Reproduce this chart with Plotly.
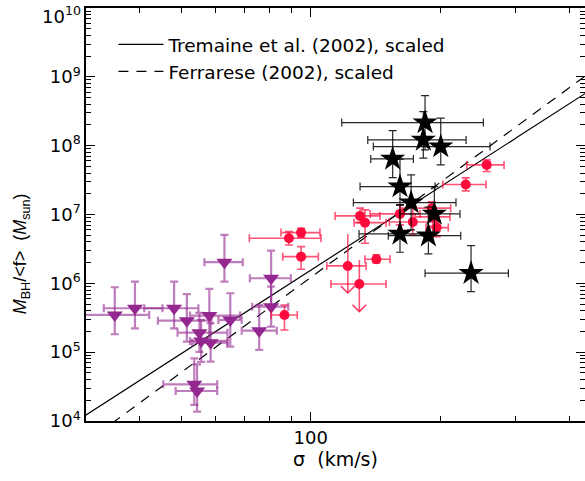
import numpy as np
import plotly.graph_objects as go

# ---------------- data ----------------
# purple triangles
purple_sigma    = [35.0, 39.0, 48.1, 51.5, 58.1, 55.1, 55.6, 65.0, 58.5, 75.9, 80.9, 80.9, 63.0, 53.6, 54.4]
purple_sigma_lo = [25.0, 33.0, 41.0, 44.1, 52.4, 49.0, 52.4, 61.0, 53.0, 69.1, 72.2, 73.1, 56.6, 45.4, 48.5]
purple_sigma_hi = [42.1, 45.2, 54.8, 58.8, 68.5, 64.0, 64.0, 69.1, 64.0, 83.4, 89.9, 88.7, 69.5, 60.6, 60.6]
purple_logm     = [5.541, 5.638, 5.638, 5.458, 5.531, 5.283, 5.163, 5.468, 5.138, 5.312, 6.074, 5.661, 6.307, 4.533, 4.436]
purple_logm_hi  = [5.943, 6.025, 6.025, 5.842, 5.919, 5.570, 5.468, 5.856, 5.420, 5.686, 6.475, 5.952, 6.703, 4.911, 4.824]
purple_logm_lo  = [5.260, 5.347, 5.347, 5.153, 5.138, 5.003, 4.858, 5.080, 4.862, 5.032, 5.676, 5.371, 6.025, 4.233, 4.135]

# red circles
red_sigma    = [89.0, 95.0, 95.0, 86.9, 142.2, 130.3, 133.8, 161.4, 172.9, 191.3, 192.6, 196.5, 229.6, 256.9]
red_sigma_lo = [72.0, 85.3, 86.1, 80.9, 133.8, 114.0, 126.2, 137.5, 152.4, 161.4, 175.0, 185.5, 203.0, 230.8]
red_sigma_hi = [105.7, 105.1, 104.2, 93.1, 153.0, 145.0, 149.8, 179.7, 196.5, 211.8, 211.0, 209.1, 256.0, 281.9]
red_logm     = [6.656, 6.737, 6.388, 5.541, 6.350, 6.980, 6.882, 7.009, 6.892, 7.092, 6.965, 6.810, 7.435, 7.721]
red_logm_hi  = [6.751, 6.801, 6.533, 5.686, 6.413, 7.092, 7.067, 7.140, 7.115, 7.183, 7.067, 6.897, 7.532, 7.794]
red_logm_lo  = [6.558, 6.670, 6.205, 5.323, 6.297, 6.882, 6.583, 6.849, 6.703, 6.980, 6.834, 6.679, 7.343, 7.624]

# red circles with upper limits
redlim_sigma    = [122.0, 129.8]
redlim_sigma_lo = [109.0, 111.5]
redlim_sigma_hi = [134.6, 149.8]
redlim_logm     = [6.253, 5.991]
redlim_logm_hi  = [6.714, 6.340]
redlim_logm_lim = [5.860, 5.589]

# black stars
star_sigma    = [184.6, 182.9, 200.8, 155.2, 161.4, 171.3, 194.0, 161.4, 187.9, 236.2]
star_sigma_lo = [118.1, 135.8, 139.9, 138.0, 130.3, 125.7, 161.4, 129.6, 151.6, 184.6]
star_sigma_hi = [252.3, 230.0, 261.5, 173.4, 194.8, 217.9, 222.6, 192.6, 223.5, 288.5]
star_logm     = [8.336, 8.084, 7.987, 7.808, 7.406, 7.173, 7.009, 6.718, 6.693, 6.147]
star_logm_hi  = [8.728, 8.496, 8.400, 8.219, 7.804, 7.576, 7.406, 7.140, 7.106, 6.548]
star_logm_lo  = [7.939, 7.818, 7.721, 7.536, 7.140, 6.776, 6.728, 6.452, 6.427, 5.879]

# scaled M-sigma relations: log M = a + b log(sigma/200)
relation_names = ["Tremaine et al. (2002), scaled", "Ferrarese (2002), scaled"]
relation_a = [7.40, 7.464]
relation_b = [4.02, 4.58]
relation_dash = ["solid", "10px,8px"]

x_range = [30, 435]
y_major = [4, 5, 6, 7, 8, 9, 10]
x_major = [100]
x_minor = [40, 50, 60, 70, 80, 90, 200, 300, 400]


def errs(v, lo, hi, log=False):
    v = np.array(v, float); lo = np.array(lo, float); hi = np.array(hi, float)
    if log:
        v, lo, hi = 10 ** v, 10 ** lo, 10 ** hi
    return v, hi - v, v - lo


fig = go.Figure()

sig = np.logspace(np.log10(20), np.log10(600), 200)
for name, a, b, d in zip(relation_names, relation_a, relation_b, relation_dash):
    fig.add_trace(go.Scatter(x=sig, y=10 ** (a + b * np.log10(sig / 200.0)), mode="lines",
                             name=name, line=dict(color="black", width=1.2, dash=d)))

PURPLE = "#93278F"
RED = "#FF0A3C"


def add_group(sx, sl, sh, ly, ll, lh, symbol, size, color, barcolor, barw, capw):
    x, xp, xm = errs(sx, sl, sh)
    y, yp, ym = errs(ly, ll, lh, log=True)
    fig.add_trace(go.Scatter(
        x=x, y=y, mode="markers", showlegend=False,
        marker=dict(symbol=symbol, size=size, color=color, line=dict(width=0)),
        error_x=dict(type="data", symmetric=False, array=xp, arrayminus=xm,
                     color=barcolor, thickness=barw, width=capw),
        error_y=dict(type="data", symmetric=False, array=yp, arrayminus=ym,
                     color=barcolor, thickness=barw, width=capw),
    ))


add_group(purple_sigma, purple_sigma_lo, purple_sigma_hi, purple_logm, purple_logm_lo, purple_logm_hi,
          "triangle-down", 14, PURPLE, "rgba(147,39,143,0.6)", 2.2, 4)

# upper limits (red)
ux, uxp, uxm = errs(redlim_sigma, redlim_sigma_lo, redlim_sigma_hi)
uy = 10 ** np.array(redlim_logm)
uyp = 10 ** np.array(redlim_logm_hi) - uy
uym = uy - 10 ** np.array(redlim_logm_lim)
fig.add_trace(go.Scatter(
    x=ux, y=uy, mode="markers", showlegend=False,
    marker=dict(symbol="circle", size=10, color=RED),
    error_x=dict(type="data", symmetric=False, array=uxp, arrayminus=uxm,
                 color="rgba(255,10,60,0.7)", thickness=1.6, width=4),
    error_y=dict(type="data", symmetric=False, array=uyp, arrayminus=uym,
                 color="rgba(255,10,60,0.7)", thickness=1.6, width=0),
))
ax, ay = [], []
for s, t in zip(redlim_sigma, redlim_logm_lim):
    ax += [s * 10 ** -0.016, s, s * 10 ** 0.016, None]
    ay += [10 ** (t + 0.1), 10 ** t, 10 ** (t + 0.1), None]
fig.add_trace(go.Scatter(x=ax, y=ay, mode="lines", showlegend=False,
                         line=dict(color="rgba(255,10,60,0.8)", width=1.6)))

add_group(red_sigma, red_sigma_lo, red_sigma_hi, red_logm, red_logm_lo, red_logm_hi,
          "circle", 10, RED, "rgba(255,10,60,0.7)", 1.6, 4)

add_group(star_sigma, star_sigma_lo, star_sigma_hi, star_logm, star_logm_lo, star_logm_hi,
          "star", 19, "black", "rgba(0,0,0,0.85)", 1.2, 4)

FONT = "DejaVu Sans, sans-serif"

fig.add_annotation(
    xref="paper", yref="paper", x=-0.129, y=0.405, textangle=-90, showarrow=False,
    xanchor="center", yanchor="middle",
    text="<i>M</i><sub>BH</sub>/&lt;f&gt;  (<i>M</i><sub>sun</sub>)",
    font=dict(family="Liberation Sans, Arial, sans-serif", size=18, color="black"),
)

# top decade label placed just below the frame edge so it is not clipped
top_exp = y_major[-1]
fig.add_annotation(
    xref="paper", yref="y", x=-0.006, y=top_exp, showarrow=False,
    xanchor="right", yanchor="top", yshift=7,
    text="10<sup>%d</sup>" % top_exp, font=dict(family=FONT, size=18, color="black"),
)

fig.update_layout(
    width=585, height=481,
    margin=dict(l=86, r=0, t=8, b=60, autoexpand=False),
    paper_bgcolor="white", plot_bgcolor="white",
    font=dict(family=FONT, size=18, color="black"),
    showlegend=True,
    legend=dict(x=0.055, y=0.957, xanchor="left", yanchor="top", bgcolor="rgba(0,0,0,0)",
                font=dict(size=18.5), itemwidth=45, tracegroupgap=0),
    xaxis=dict(type="log", range=[np.log10(x_range[0]), np.log10(x_range[1])],
               automargin=False,
               tickvals=x_major, ticktext=[str(v) for v in x_major],
               ticks="inside", ticklen=9, tickwidth=1.2, tickcolor="black",
               minor=dict(tickvals=x_minor, ticks="inside", ticklen=5, tickwidth=1.2, tickcolor="black"),
               showline=True, linecolor="black", linewidth=1.5, mirror="allticks",
               showgrid=False, zeroline=False,
               title=dict(text="σ  (km/s)", standoff=0, font=dict(size=19))),
    yaxis=dict(type="log", range=[4, 10.0002],
               automargin=False,
               tickvals=[10 ** v for v in y_major],
               ticktext=["10<sup>%d</sup>" % v if v != top_exp else "" for v in y_major],
               ticks="inside", ticklen=9, tickwidth=1.2, tickcolor="black",
               minor=dict(tickvals=[m * 10 ** e for e in range(4, 10) for m in range(2, 10)],
                          ticks="inside", ticklen=5, tickwidth=1.2, tickcolor="black"),
               showline=True, linecolor="black", linewidth=1.5, mirror="allticks",
               showgrid=False, zeroline=False),
)

fig.write_html("out.html")
